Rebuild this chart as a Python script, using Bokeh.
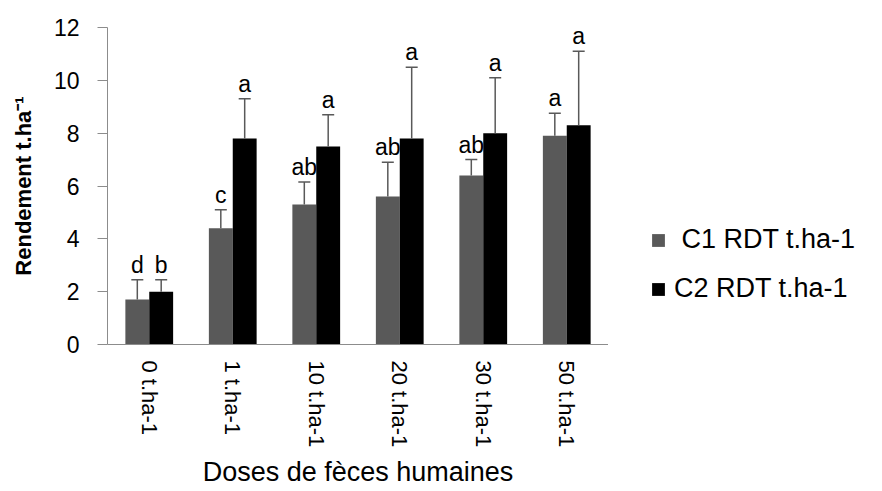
import math
from bokeh.plotting import figure
from bokeh.layouts import row
from bokeh.models import (FactorRange, Legend, LegendItem, ColumnDataSource,
                          Range1d, FixedTicker)
from bokeh.transform import dodge
from bokeh.core.properties import value
from bokeh.embed import file_html
from bokeh.resources import INLINE

# ---- data ----
doses = ["0 t.ha-1", "1 t.ha-1", "10 t.ha-1", "20 t.ha-1", "30 t.ha-1", "50 t.ha-1"]
c1 = [1.7, 4.4, 5.3, 5.6, 6.4, 7.9]
c1_err = [0.75, 0.7, 0.85, 1.3, 0.6, 0.85]
c2 = [2.0, 7.8, 7.5, 7.8, 8.0, 8.3]
c2_err = [0.45, 1.5, 1.2, 2.7, 2.1, 2.8]
c1_letters = ["d", "c", "ab", "ab", "ab", "a"]
c2_letters = ["b", "a", "a", "a", "a", "a"]
y_ticks = [0, 2, 4, 6, 8, 10, 12]
series_names = [" C1 RDT t.ha-1", "C2 RDT t.ha-1"]
x_title = "Doses de fèces humaines"
y_title = "Rendement t.ha\u207b\u00b9"

FONT = "Liberation Sans"
GRAY = "#595959"
BLACK = "#000000"
ERR = "#595959"
AXIS = "#8c8c8c"
H = 490
FRAME_BOTTOM = 345

src = ColumnDataSource(dict(
    dose=doses,
    c1=c1, c2=c2,
    c1_top=[v + e for v, e in zip(c1, c1_err)],
    c2_top=[v + e for v, e in zip(c2, c2_err)],
    l1=c1_letters, l2=c2_letters,
))

p = figure(width=608, height=H,
           x_range=FactorRange(*doses),
           y_range=Range1d(0, 12),
           output_backend="svg", toolbar_location=None,
           min_border_left=107, min_border_top=27,
           min_border_bottom=H - FRAME_BOTTOM, min_border_right=0)

off = 0.143
bw = 0.286
x1 = dodge("dose", -off, range=p.x_range)
x2 = dodge("dose", off, range=p.x_range)

r1 = p.vbar(x=x1, top="c1", width=bw, source=src, fill_color=GRAY, line_color=None)
r2 = p.vbar(x=x2, top="c2", width=bw, source=src, fill_color=BLACK, line_color=None)

for xx, base, top in [(x1, "c1", "c1_top"), (x2, "c2", "c2_top")]:
    p.segment(x0=xx, y0=base, x1=xx, y1=top, source=src,
              line_color=ERR, line_width=1.5)
    p.scatter(x=xx, y=top, source=src, marker="dash", size=12,
              line_color=ERR, line_width=1.5)

for xx, top, lab in [(x1, "c1_top", "l1"), (x2, "c2_top", "l2")]:
    p.text(x=xx, y=top, text=lab, source=src, text_align="center",
           text_baseline="bottom", y_offset=-2,
           text_font=value(FONT), text_font_size="23px", text_color="#000000")

# axes
p.xgrid.grid_line_color = None
p.ygrid.grid_line_color = None
p.outline_line_color = None

ya = p.yaxis[0]
ya.ticker = FixedTicker(ticks=y_ticks)
ya.major_tick_out = 10
ya.major_tick_in = 0
ya.minor_tick_line_color = None
ya.axis_line_color = AXIS
ya.major_tick_line_color = AXIS
ya.major_label_text_font = FONT
ya.major_label_text_font_size = "23px"
ya.major_label_text_color = "#000000"
ya.major_label_standoff = 18
ya.axis_label = y_title
ya.axis_label_text_font = FONT
ya.axis_label_text_font_style = "bold"
ya.axis_label_text_font_size = "22px"
ya.axis_label_text_color = "#000000"
ya.axis_label_standoff = 15

xa = p.xaxis[0]
xa.major_label_orientation = -math.pi / 2
xa.major_tick_out = 0
xa.major_tick_in = 0
xa.minor_tick_line_color = None
xa.axis_line_color = AXIS
xa.major_label_text_font = FONT
xa.major_label_text_font_size = "22px"
xa.major_label_text_color = "#000000"
xa.major_label_standoff = 16
xa.axis_label = x_title
xa.axis_label_text_font = FONT
xa.axis_label_text_font_style = "normal"
xa.axis_label_text_font_size = "27px"
xa.axis_label_text_color = "#000000"
xa.axis_label_standoff = 7

# legend panel: a second figure to the right; its swatch renderers use the
# series data but lie outside its (empty) visible range, so only the legend shows
p2 = figure(width=270, height=H, x_range=Range1d(-2, -1), y_range=Range1d(-2, -1),
            output_backend="svg", toolbar_location=None,
            x_axis_location=None, y_axis_location=None,
            min_border=0)
p2.outline_line_color = None
p2.xgrid.grid_line_color = None
p2.ygrid.grid_line_color = None
d1 = p2.vbar(x="c1", top="c1", width=0.1, source=src, fill_color=GRAY, line_color=None)
d2 = p2.vbar(x="c2", top="c2", width=0.1, source=src, fill_color=BLACK, line_color=None)

legend = Legend(items=[LegendItem(label=series_names[0], renderers=[d1]),
                       LegendItem(label=series_names[1], renderers=[d2])],
                location=(42, 40),
                label_text_font=FONT, label_text_font_size="27px",
                label_text_color="#000000",
                glyph_width=16, glyph_height=16, label_standoff=8,
                spacing=18, padding=0, margin=0,
                border_line_color=None, background_fill_alpha=0)
p2.add_layout(legend)

layout = row(p, p2, spacing=0)
open("out.html", "w").write(file_html(layout, INLINE))
